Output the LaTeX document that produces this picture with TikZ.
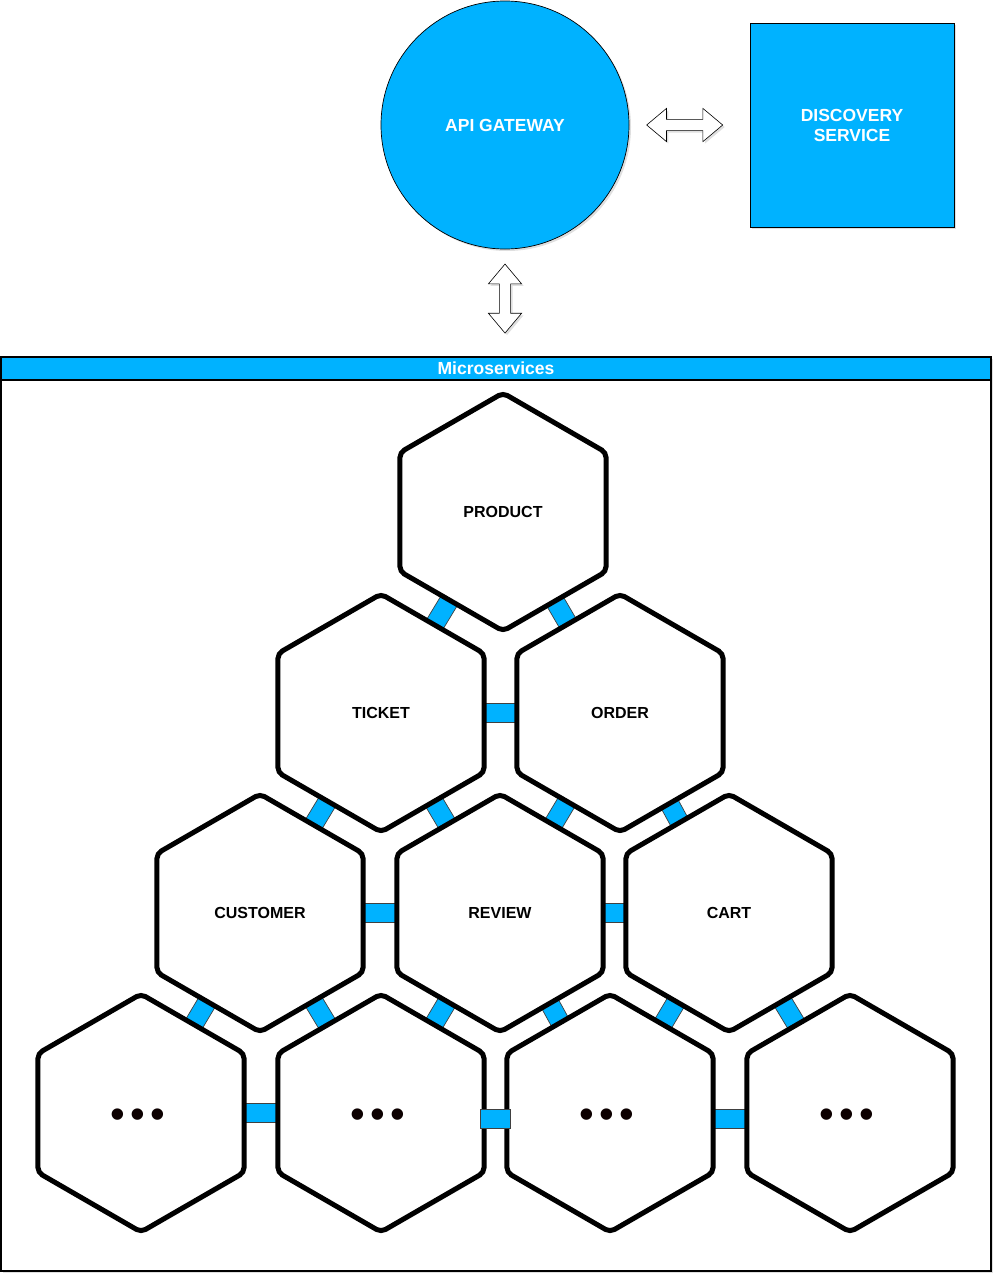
\documentclass[tikz,border=0pt]{standalone}
\usepackage{fontspec}
\setmainfont{Liberation Sans}
\usetikzlibrary{shapes.geometric,shapes.arrows,shadows,calc}
\definecolor{msblue}{HTML}{00B2FF}
\pgfdeclarelayer{bg}
\pgfdeclarelayer{mid}
\pgfsetlayers{bg,mid,main}
\newcommand{\hexdots}{•\hspace{5.5pt}•\hspace{5.5pt}•}
\begin{document}
\begin{tikzpicture}[x=1pt,y=-1pt,
  shad/.style={drop shadow={opacity=0.25, shadow xshift=2pt, shadow yshift=-2pt}},
  topfont/.style={font=\bfseries\fontsize{17.5}{20}\selectfont, text=white},
  hexa/.style={regular polygon, regular polygon sides=6, shape border rotate=30,
    minimum size=238pt, inner sep=0pt, draw=black, line width=5pt, fill=white,
    rounded corners=5pt, shad, font=\bfseries\fontsize{16}{19}\selectfont},
  dotlab/.style={font=\fontsize{42}{42}\selectfont, text=black!95!red, inner sep=0pt, xshift=-3pt, yshift=-5.5pt},
  conn/.style={sloped, draw=black!75, line width=0.7pt, fill=msblue, inner sep=0pt,
    minimum width=40pt, minimum height=19pt},
  dblarrow/.style={double arrow, draw=black, fill=white, line width=0.6pt,
    inner xsep=0pt, inner ysep=5.3pt, double arrow head extend=11pt,
    double arrow tip angle=80, sloped, shad}
]
\useasboundingbox (0,0) rectangle (1003,1282);

% container
\begin{pgfonlayer}{bg}
\node[draw=black, line width=1.3pt, fill=white, minimum width=990pt, minimum height=914pt,
  inner sep=0pt, shad] (ms) at (496,814) {};
\end{pgfonlayer}
\node[draw=black, line width=1.5pt, fill=msblue, minimum width=990pt, minimum height=23pt,
  inner sep=0pt, anchor=north, topfont] (mstitle) at (ms.north) {Microservices};

% top
\node[circle, draw=black, line width=0.7pt, fill=msblue, minimum size=248pt, inner sep=0pt,
  shad, topfont] (gw) at (505,125) {API GATEWAY};
\node[rectangle, draw=black, line width=0.7pt, fill=msblue, minimum size=204pt, inner sep=0pt,
  shad, topfont, align=center] (ds) at (852,125) {DISCOVERY\\SERVICE};

\path (gw.east) -- node[dblarrow, minimum height=76pt, pos=0.46] (arrh) {} (ds.west);
\path (gw.south) -- node[dblarrow, minimum height=69pt, pos=0.46] (arrv) {} (gw.south |- mstitle.north);

% hexagons
\node[hexa] (product) at (503,512) {PRODUCT};
\node[hexa] (ticket) at (381,713) {TICKET};
\node[hexa] (order) at (620,713) {ORDER};
\node[hexa] (customer) at (260,913) {CUSTOMER};
\node[hexa] (review) at (500,913) {REVIEW};
\node[hexa] (cart) at (729,913) {CART};
\node[hexa, label={[dotlab]center:\hexdots}] (m1) at (141,1113) {};
\node[hexa, label={[dotlab]center:\hexdots}] (m2) at (381,1113) {};
\node[hexa, label={[dotlab]center:\hexdots}] (m3) at (610,1113) {};
\node[hexa, label={[dotlab]center:\hexdots}] (m4) at (850,1113) {};

% connectors
\begin{pgfonlayer}{mid}
\foreach \a/\b in {product/ticket, product/order, ticket/order, ticket/customer,
  ticket/review, order/review, order/cart, customer/review, review/cart,
  customer/m1, customer/m2, review/m2, review/m3, cart/m3, cart/m4, m1/m2}
  \path (\a) -- node[conn] {} (\b);
\path (m3) -- node[conn, yshift=-6pt] {} (m4);
\end{pgfonlayer}
\path (m2) -- node[conn, yshift=-6pt, minimum width=30pt] {} (m3);
\end{tikzpicture}
\end{document}
